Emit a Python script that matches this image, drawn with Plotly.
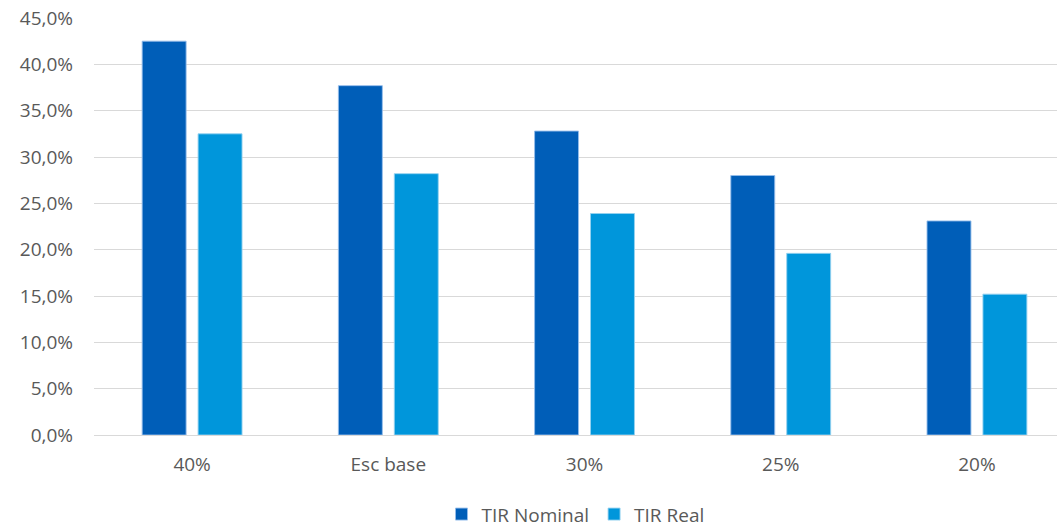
import plotly.graph_objects as go

# Escenarios y tasas internas de retorno (%)
categories = ["40%", "Esc base", "30%", "25%", "20%"]
tir_nominal = [42.5, 37.7, 32.8, 28.0, 23.1]
tir_real = [32.5, 28.2, 23.9, 19.6, 15.2]
y_ticks = [0, 5, 10, 15, 20, 25, 30, 35, 40, 45]
y_tick_labels = ["0,0%", "5,0%", "10,0%", "15,0%", "20,0%", "25,0%",
                 "30,0%", "35,0%", "40,0%", "45,0%"]

FONT = "Open Sans"
GRAY_TEXT = "#595959"
GRID = "#d9d9d9"
SIZE = 19

fig = go.Figure()
fig.add_trace(go.Bar(
    name="TIR Nominal", x=categories, y=tir_nominal,
    marker=dict(color="#005eb8", line=dict(color="rgba(150,190,235,0.9)", width=1)),
))
fig.add_trace(go.Bar(
    name="TIR Real", x=categories, y=tir_real,
    marker=dict(color="#0096db", line=dict(color="rgba(150,210,240,0.9)", width=1)),
))

fig.update_layout(
    width=1057, height=529,
    margin=dict(l=94, r=0, t=18, b=94, autoexpand=False),
    paper_bgcolor="white", plot_bgcolor="white",
    barmode="group", bargap=0.43, bargroupgap=0.214,
    font=dict(family=FONT, size=SIZE, color=GRAY_TEXT),
    showlegend=True,
    legend=dict(orientation="h", x=0.5, xanchor="center", y=-0.19, yanchor="middle",
                font=dict(family=FONT, size=SIZE, color=GRAY_TEXT),
                itemwidth=30, traceorder="normal"),
)
fig.update_xaxes(
    range=[-0.5, 4.408], showgrid=False, showline=True, linecolor=GRID, linewidth=1,
    ticks="", tickfont=dict(family=FONT, size=SIZE, color=GRAY_TEXT), ticklabelstandoff=12,
)
fig.update_yaxes(
    range=[0, 45], tickvals=y_ticks, ticktext=y_tick_labels,
    showgrid=True, gridcolor=GRID, gridwidth=1, zeroline=False,
    showline=False, ticks="", tickfont=dict(family=FONT, size=SIZE, color=GRAY_TEXT),
    ticklabelstandoff=20,
)

fig.write_html("out.html")
